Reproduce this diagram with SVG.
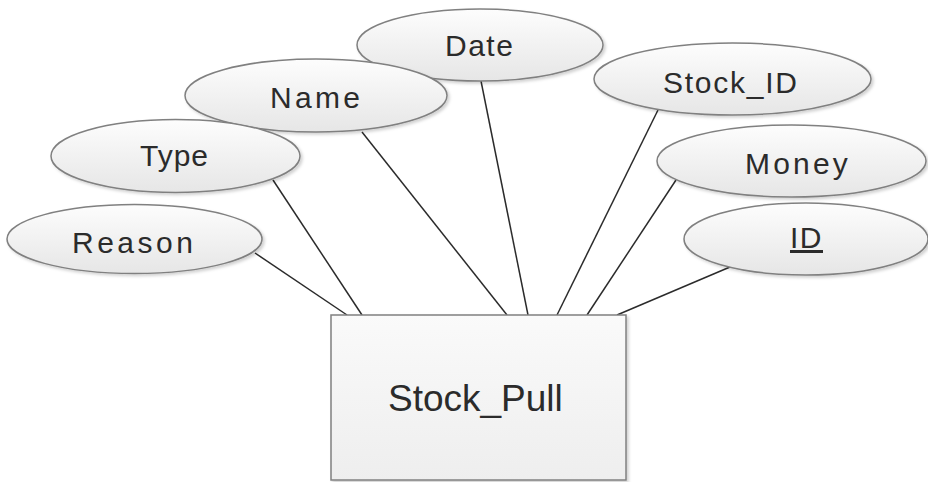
<svg xmlns="http://www.w3.org/2000/svg" width="928" height="482" viewBox="0 0 928 482">
<defs>
<linearGradient id="eg" x1="0" y1="0" x2="0" y2="1">
<stop offset="0" stop-color="#fdfdfd"/>
<stop offset="1" stop-color="#e6e6e6"/>
</linearGradient>
<linearGradient id="rg" x1="0" y1="0" x2="0" y2="1">
<stop offset="0" stop-color="#fafafa"/>
<stop offset="1" stop-color="#eeeeee"/>
</linearGradient>
<filter id="sh" x="-10%" y="-10%" width="125%" height="130%">
<feDropShadow dx="2" dy="2" stdDeviation="1.5" flood-color="#000" flood-opacity="0.18"/>
</filter>
<style>
.attr{fill:url(#eg);stroke:#808080;stroke-width:1.5;filter:url(#sh)}
.ent{fill:url(#rg);stroke:#808080;stroke-width:1.5;filter:url(#sh)}
.t{font-family:"Liberation Sans",Arial,sans-serif;font-size:30px;fill:#2b2b2b}
.big{font-size:37px}
.c line{stroke:#2b2b2b;stroke-width:1.5}
</style>
</defs>
<rect width="928" height="482" fill="#ffffff"/>
<g class="c" id="connectors">
<line x1="255" y1="253" x2="347" y2="315"/>
<line x1="273" y1="180" x2="362" y2="315"/>
<line x1="362" y1="132" x2="507" y2="315"/>
<line x1="481" y1="81" x2="528" y2="315"/>
<line x1="658" y1="110" x2="557" y2="315"/>
<line x1="676" y1="180" x2="587" y2="315"/>
<line x1="730" y1="267" x2="617" y2="315"/>
</g>
<g id="date"><ellipse class="attr" cx="480" cy="45" rx="123" ry="36"/><text class="t" x="445" y="56" letter-spacing="1.5">Date</text></g>
<g id="name"><ellipse class="attr" cx="316" cy="95.5" rx="131" ry="36.5"/><text class="t" x="270" y="108" letter-spacing="3.3">Name</text></g>
<g id="type"><ellipse class="attr" cx="175.5" cy="156" rx="124.5" ry="36.5"/><text class="t" x="140" y="166" letter-spacing="1">Type</text></g>
<g id="reason"><ellipse class="attr" cx="134.5" cy="239" rx="127.5" ry="34.5"/><text class="t" x="72" y="253" letter-spacing="3.5">Reason</text></g>
<g id="stock_id"><ellipse class="attr" cx="732.5" cy="79" rx="138.5" ry="36"/><text class="t" x="663" y="93" letter-spacing="1.75">Stock_ID</text></g>
<g id="money"><ellipse class="attr" cx="791.5" cy="161" rx="134.5" ry="36"/><text class="t" x="745" y="174" letter-spacing="3.2">Money</text></g>
<g id="id"><ellipse class="attr" cx="806" cy="239" rx="122" ry="36"/><text class="t" x="790" y="248" letter-spacing="1.5" text-decoration="underline">ID</text></g>
<g id="stock_pull"><rect class="ent" x="331" y="315" width="295" height="165"/><text class="t big" x="388" y="411">Stock_Pull</text></g>
</svg>
